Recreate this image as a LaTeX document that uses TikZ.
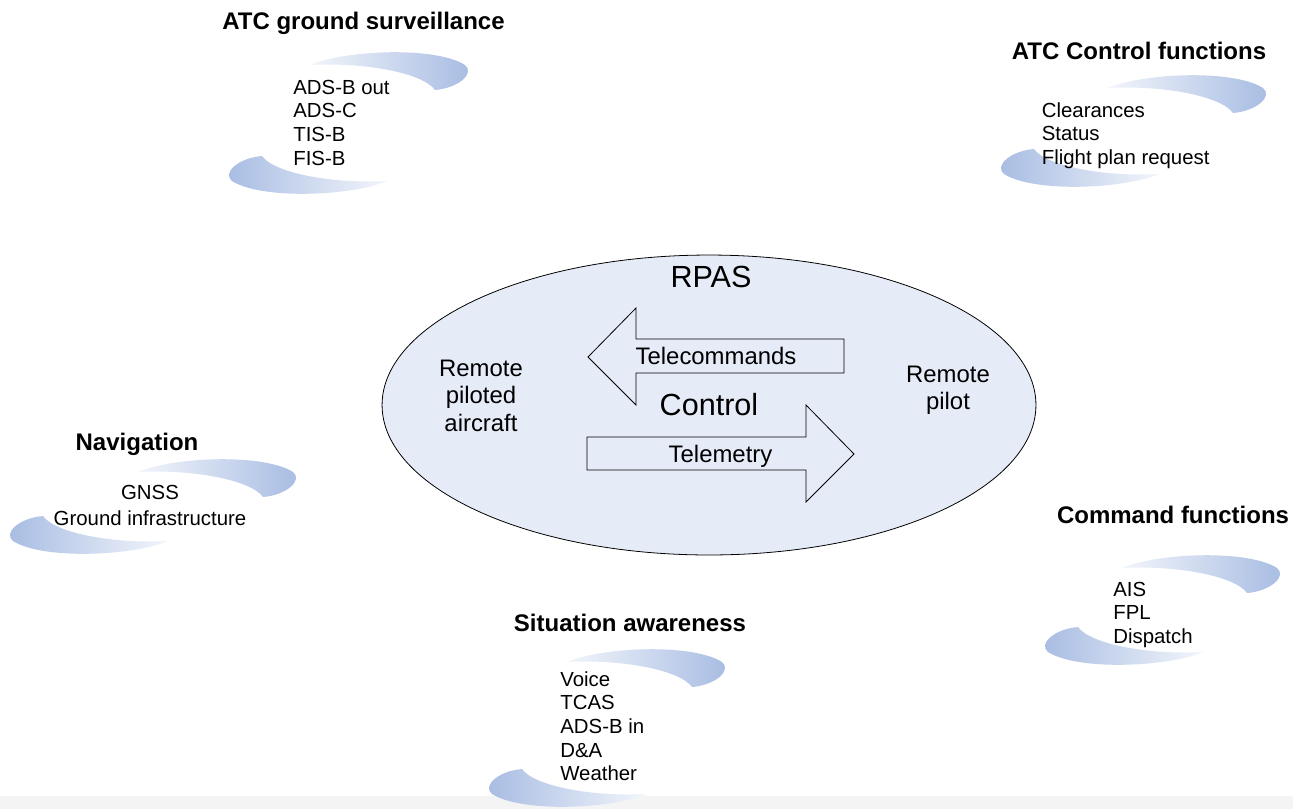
\documentclass[tikz,border=0pt]{standalone}
\usepackage{fontspec}
\setmainfont{Liberation Sans}
\usetikzlibrary{shapes.geometric}
\definecolor{ellfill}{HTML}{E6ECF7}
\definecolor{swblue}{HTML}{A6BBE2}
\definecolor{swmid}{HTML}{D6E0F1}
\definecolor{swpale}{HTML}{F2F5FB}
\definecolor{bandgray}{HTML}{F4F4F4}
\newcommand{\bodyfnt}{\fontsize{11.6}{13.5}\selectfont}
\newcommand{\navfnt}{\fontsize{11.6}{14.8}\selectfont}
\newcommand{\headfnt}{\fontsize{13.66}{16}\selectfont\bfseries}
\newcommand{\innerfnt}{\fontsize{13.6}{15.9}\selectfont}
\newcommand{\bigfnt}{\fontsize{17.4}{20}\selectfont}
\newcommand{\ltab}[2]{\begin{tabular}[t]{@{}#1@{}}#2\end{tabular}}
\tikzset{
  swU/.style={left color=swpale, middle color=swmid, right color=swblue, draw=none},
  swL/.style={left color=swblue, middle color=swmid, right color=swpale, draw=none},
  upcres/.pic={\path[swU] (-155,0) .. controls (-120,-15) and (-30,-19) .. (0,0)
      .. controls (10,8) and (-6,23) .. (-30,25)
      .. controls (-42,8) and (-100,-3) .. cycle;},
  lowcres/.pic={\path[swL] (155,0) .. controls (120,15) and (30,19) .. (0,0)
      .. controls (-10,-8) and (6,-23) .. (30,-25)
      .. controls (42,-8) and (100,3) .. cycle;},
  head/.style={font=\headfnt, inner sep=0pt, anchor=base},
  lst/.style={font=\bodyfnt, inner sep=0pt, anchor=base west},
  inr/.style={font=\innerfnt, inner sep=0pt, anchor=base},
  big/.style={font=\bigfnt, inner sep=0pt, anchor=base},
  bigarrow/.style={draw=black, line width=0.45pt, line join=miter}
}
\begin{document}
\begin{tikzpicture}[x=0.02cm, y=-0.02cm]
\useasboundingbox (0,0) rectangle (1293,809);
\fill[white] (0,0) rectangle (1293,809);
\fill[bandgray] (0,796) rectangle (1293,809);

% swooshes
\pic at (465,65) {upcres};
\pic at (232,181) {lowcres};
\pic at (293,472) {upcres};
\pic at (13,541) {lowcres};
\pic at (1263,88) {upcres};
\pic at (1004,174) {lowcres};
\pic at (1277,568) {upcres};
\pic at (1048,652) {lowcres};
\pic at (722,662) {upcres};
\pic at (492,794) {lowcres};

% central ellipse
\node[ellipse, draw=black, line width=0.45pt, fill=ellfill, inner sep=0pt,
      minimum width=13.08cm, minimum height=6cm] (rpas) at (709,405) {};

% arrows
\draw[bigarrow] (588,357) -- (636,308) -- (636,339) -- (844,339) -- (844,373)
   -- (636,373) -- (636,405) -- cycle;
\draw[bigarrow] (587,437) -- (806,437) -- (806,405) -- (854,454) -- (806,502)
   -- (806,470) -- (587,470) -- cycle;

% inner texts
\node[big] (rpast) at (711,287) {RPAS};
\node[big] (ctrl) at (709,415) {Control};
\node[inr] (telec) at (716,364) {Telecommands};
\node[inr] (telem) at (720.5,462) {Telemetry};
\node[inr] (rpa) at (481,376) {\ltab{c}{Remote\\piloted\\aircraft}};
\node[inr] (rp) at (948,382) {\ltab{c}{Remote\\pilot}};

% headings
\node[head] (h1) at (363.5,29) {ATC ground surveillance};
\node[head] (h2) at (1139,59) {ATC Control functions};
\node[head] (h3) at (137,450) {Navigation};
\node[head] (h4) at (1173,523) {Command functions};
\node[head] (h5) at (630,631) {Situation awareness};

% lists
\node[lst] (l1) at (293,94) {\ltab{l}{ADS-B out\\ADS-C\\TIS-B\\FIS-B}};
\node[lst] (l2) at (1041.5,117) {\ltab{l}{Clearances\\Status\\Flight plan request}};
\node[font=\navfnt, inner sep=0pt, anchor=base] (l3) at (150,499) {\ltab{c}{GNSS\\Ground infrastructure}};
\node[lst] (l4) at (1113,596) {\ltab{l}{AIS\\FPL\\Dispatch}};
\node[lst] (l5) at (560,686) {\ltab{l}{Voice\\TCAS\\ADS-B in\\D\&A\\Weather}};
\end{tikzpicture}
\end{document}
